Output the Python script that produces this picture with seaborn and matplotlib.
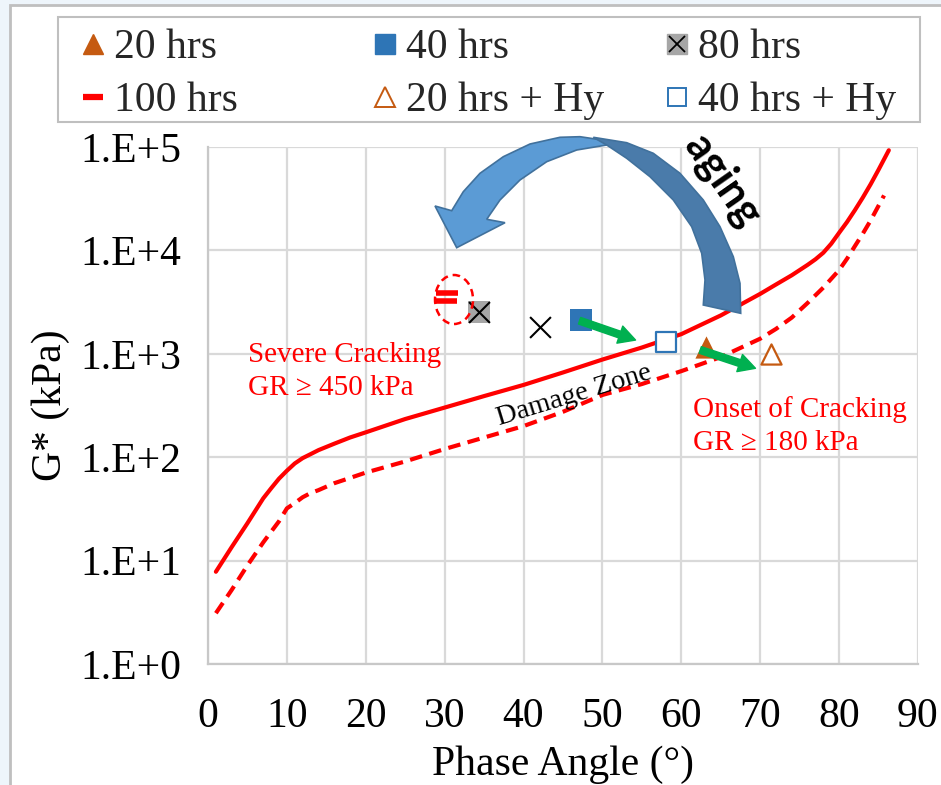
import numpy as np
import pandas as pd
import matplotlib
matplotlib.use("Agg")
import matplotlib.pyplot as plt
import seaborn as sns
from matplotlib.lines import Line2D
from matplotlib.patches import Ellipse, Polygon, Rectangle
from matplotlib.legend_handler import HandlerTuple
from matplotlib.ticker import NullLocator

# ---------------- data ----------------
phase_solid = [1, 3, 5, 7, 8, 9, 10, 11, 12, 13, 14, 16, 18, 20, 25, 30, 35, 40, 45,
               50, 55, 60, 65, 70, 72, 74, 76, 77, 78, 79, 80, 81, 82, 83, 84, 85, 86.3]
g_solid = [7.8, 13.5, 23, 40, 50, 62, 74, 87, 98, 107, 117, 135, 155, 174, 234, 302,
           390, 500, 660, 880, 1150, 1550, 2350, 3800, 4680, 5750, 7240, 8200, 9500,
           11600, 14800, 18800, 24500, 32400, 43700, 60300, 93000]

phase_dash = [1, 3, 5, 7, 8, 9, 10, 11, 12, 13, 14, 16, 18, 20, 25, 30, 35, 40, 45,
              50, 55, 60, 65, 70, 72, 74, 76, 78, 80, 81, 82, 83, 84, 85.7]
g_dash = [3.1, 5.2, 9, 15, 19, 24, 32, 36, 41, 45, 48, 56, 63, 71, 91, 120, 155, 200,
          275, 400, 510, 680, 930, 1400, 1740, 2240, 3100, 4370, 6450, 8300, 11000,
          14500, 19500, 34000]

pa_20 = [63.1];       g_20 = [1160]
pa_40 = [47.3];       g_40 = [2115]
pa_80 = [34.3];       g_80 = [2550]
pa_100 = [30.35, 30.2]; g_100 = [3850, 3270]
pa_20hy = [71.4];     g_20hy = [990]
pa_40hy = [58.0];     g_40hy = [1295]
pa_80hy = [42.1];     g_80hy = [1815]

x_ticks = [0, 10, 20, 30, 40, 50, 60, 70, 80, 90]
y_ticks = [1, 10, 100, 1000, 10000, 100000]
y_tick_labels = ["1.E+0", "1.E+1", "1.E+2", "1.E+3", "1.E+4", "1.E+5"]

legend_labels = ["20 hrs", "100 hrs", "40 hrs", "20 hrs + Hy", "80 hrs", "40 hrs + Hy"]

# ---------------- style ----------------
sns.set_theme(style="white")
SER = ["Liberation Serif", "DejaVu Serif"]
plt.rcParams["font.family"] = SER

RED = "#FF0000"
ORANGE = "#C55A11"
BLUE = "#2E75B6"
GRAY = "#A6A6A6"
GREEN = "#00B050"
GRID = "#D9D9D9"

W, H = 941, 785
fig = plt.figure(figsize=(W / 100, H / 100), dpi=100)
fig.patch.set_facecolor("#EEF5FB")
fig.add_artist(Rectangle((10 / W, -0.05), 1.0, 1 - 5 / H + 0.05, transform=fig.transFigure,
                         facecolor="white", edgecolor="#BFBFBF", lw=2, zorder=-10))

ax = fig.add_axes([208 / W, 1 - 664 / H, 710 / W, 517 / H])
ax.set_facecolor("white")

# curves
df_solid = pd.DataFrame({"phase": phase_solid, "G": g_solid})
df_dash = pd.DataFrame({"phase": phase_dash, "G": g_dash})
sns.lineplot(data=df_solid, x="phase", y="G", ax=ax, color=RED, lw=3, zorder=3,
             sort=True, estimator=None)
sns.lineplot(data=df_dash, x="phase", y="G", ax=ax, color=RED, lw=3, zorder=3,
             sort=True, estimator=None, linestyle=(0, (3, 1.8)))

# points
sns.scatterplot(x=pa_100, y=g_100, ax=ax, marker="_", s=16.5 ** 2, color=RED,
                edgecolor=RED, linewidth=4, zorder=5, legend=False)
sns.scatterplot(x=pa_80, y=g_80, ax=ax, marker="s", s=16.5 ** 2, color=GRAY,
                edgecolor=GRAY, linewidth=0, zorder=5, legend=False)
sns.scatterplot(x=pa_80, y=g_80, ax=ax, marker="x", s=15 ** 2, color="black",
                edgecolor="black", linewidth=1.5, zorder=6, legend=False)
sns.scatterplot(x=pa_80hy, y=g_80hy, ax=ax, marker="x", s=15 ** 2, color="black",
                edgecolor="black", linewidth=1.5, zorder=5, legend=False)
sns.scatterplot(x=pa_40, y=g_40, ax=ax, marker="s", s=16.5 ** 2, color=BLUE,
                edgecolor=BLUE, linewidth=0, zorder=5, legend=False)
sns.scatterplot(x=pa_40hy, y=g_40hy, ax=ax, marker="s", s=15 ** 2, color="white",
                edgecolor=BLUE, linewidth=1.6, zorder=5, legend=False)
sns.scatterplot(x=pa_20, y=g_20, ax=ax, marker="^", s=16 ** 2, color=ORANGE,
                edgecolor=ORANGE, linewidth=0, zorder=5, legend=False)
sns.scatterplot(x=pa_20hy, y=g_20hy, ax=ax, marker="^", s=14.5 ** 2, color="white",
                edgecolor=ORANGE, linewidth=1.6, zorder=5, legend=False)

# axes
ax.set_yscale("log")
ax.set_xlim(0, 90)
ax.set_ylim(1, 1e5)
ax.set_xticks(x_ticks)
ax.set_xticklabels([str(v) for v in x_ticks], family=SER)
ax.set_yticks(y_ticks)
ax.set_yticklabels(y_tick_labels, family=SER)
ax.yaxis.set_minor_locator(NullLocator())
ax.tick_params(axis="both", length=0, labelsize=30, colors="black")
ax.tick_params(axis="x", pad=24)
ax.tick_params(axis="y", pad=19)
ax.grid(True, color=GRID, lw=1.6)
for s in ["top", "right"]:
    ax.spines[s].set_visible(False)
for s in ["left", "bottom"]:
    ax.spines[s].set_color("#C8C8C8")
    ax.spines[s].set_linewidth(1.6)
ax.set_xlabel("Phase Angle (°)", fontsize=30, labelpad=7, color="black", family=SER)
ax.set_ylabel("G* (kPa)", fontsize=30, labelpad=8, color="black", family=SER)

# ellipse around 100 hrs points
ax.add_patch(Ellipse((0.3465, 0.705), 0.0535, 0.0948, transform=ax.transAxes,
                     fill=False, edgecolor=RED, lw=1.8, linestyle=(0, (3, 2)), zorder=6))

# green arrows
arrow_kw = dict(arrowstyle="simple,head_length=0.6,head_width=0.65,tail_width=0.25",
                color=GREEN, shrinkA=0, shrinkB=0, mutation_scale=20)
ax.annotate("", xy=(54.2, 1358), xytext=(47.1, 2089), arrowprops=arrow_kw, zorder=7)
ax.annotate("", xy=(69.4, 724), xytext=(62.4, 1089), arrowprops=arrow_kw, zorder=7)

# annotations
red_kw = dict(transform=ax.transAxes, color=RED, fontsize=21, va="baseline", ha="left",
              family=SER)
ax.text(0.0563, 0.584, "Severe Cracking", **red_kw)
ax.text(0.0563, 0.520, "GR ≥ 450 kPa", **red_kw)
ax.text(0.683, 0.478, "Onset of Cracking", **red_kw)
ax.text(0.683, 0.414, "GR ≥ 180 kPa", **red_kw)
ax.text(0.5155, 0.520, "Damage Zone", transform=ax.transAxes, fontsize=20.5, rotation=17,
        rotation_mode="anchor", ha="center", va="center", color="black", zorder=6,
        family=SER)

# big curved "aging" arrow (decoration, in figure pixels)
def P(pts):
    return [(x / W, 1 - y / H) for x, y in pts]

light = [(451.7, 210.7), (435, 206), (456.7, 247.7), (505, 222.7), (486.7, 219.3),
         (500, 200), (520, 180), (546.7, 161.7), (576.7, 150), (606.7, 145), (620, 145),
         (606.7, 140.7), (580, 136.7), (560, 137.3), (530, 144), (503.3, 156.7),
         (480, 173.3), (463.3, 191.7)]
dark = [(593.3, 137.3), (626.7, 142.7), (653.3, 153.3), (680, 173.3), (703.3, 200),
        (720, 226.7), (733.3, 256.7), (740, 283.3), (740.7, 313.3), (703.3, 305),
        (705, 280), (701.7, 253.3), (691.7, 226.7), (673.3, 200), (650, 176.7),
        (626.7, 158.3), (606.7, 145)]
fig.add_artist(Polygon(P(light), closed=True, transform=fig.transFigure,
                       facecolor="#5B9BD5", edgecolor="#41719C", lw=1.2, zorder=2))
fig.add_artist(Polygon(P(dark), closed=True, transform=fig.transFigure,
                       facecolor="#4A7BAA", edgecolor="#41719C", lw=1.2, zorder=2))
fig.text(723 / W, 1 - 180 / H, "aging", fontsize=31, fontweight="bold",
         family=["Lato", "DejaVu Sans"], rotation=-55, rotation_mode="anchor",
         ha="center", va="center", color="black", zorder=3)

# legend (three columns, framed box)
ms = 14
h20 = Line2D([], [], marker="^", ls="none", ms=ms, color=ORANGE, mec=ORANGE)
h100 = Line2D([], [], marker="_", ls="none", ms=ms + 1, color=RED, mew=4.5)
h40 = Line2D([], [], marker="s", ls="none", ms=ms, color=BLUE, mec=BLUE)
h20hy = Line2D([], [], marker="^", ls="none", ms=ms, mfc="white", mec=ORANGE, mew=1.4)
h80a = Line2D([], [], marker="s", ls="none", ms=ms, color=GRAY, mec=GRAY)
h80b = Line2D([], [], marker="x", ls="none", ms=ms - 2, color="black", mew=1.3)
h40hy = Line2D([], [], marker="s", ls="none", ms=ms - 1, mfc="white", mec=BLUE, mew=1.4)
handles = [h20, h100, h40, h20hy, (h80a, h80b), h40hy]

fig.add_artist(Rectangle((58 / W, 1 - 122 / H), 862 / W, 105 / H, transform=fig.transFigure,
                         facecolor="white", edgecolor="#BFBFBF", lw=1.5, zorder=4))
col_x = [80.5, 372.5, 664.5]
for i, x0 in enumerate(col_x):
    fig.legend(handles[2 * i:2 * i + 2], legend_labels[2 * i:2 * i + 2], loc="upper left",
               bbox_to_anchor=(x0 / W, 1 - 29 / H), frameon=False,
               prop=dict(family=SER, size=30), borderpad=0, borderaxespad=0,
               labelspacing=0.34, handlelength=0.6, handletextpad=0.2,
               handler_map={tuple: HandlerTuple(ndivide=1, pad=0)}).set_zorder(5)

fig.savefig("out.png", dpi=100, facecolor=fig.get_facecolor())
